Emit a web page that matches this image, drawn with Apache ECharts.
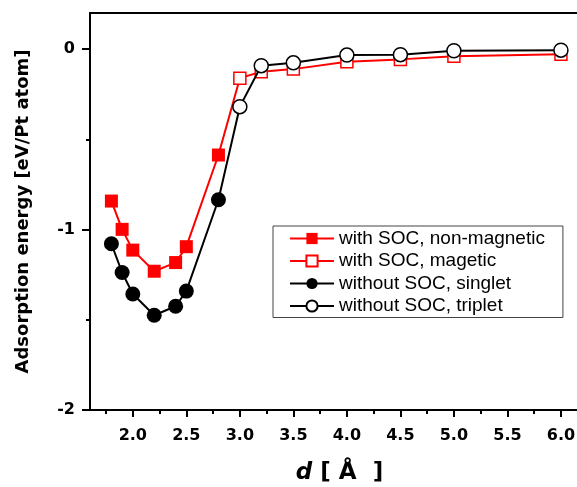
<!DOCTYPE html>
<html>
<head>
<meta charset="utf-8">
<script src="https://cdn.jsdelivr.net/npm/echarts@6/dist/echarts.min.js"></script>
<style>html,body{margin:0;padding:0;background:#fff;}#c{width:577px;height:487px;}</style>
</head>
<body>
<div id="c"></div>
<script>
// distances d [Å]
const dist = [1.8, 1.9, 2.0, 2.2, 2.4, 2.5, 2.8, 3.0, 3.2, 3.5, 4.0, 4.5, 5.0, 6.0];
// with SOC: first part non-magnetic (filled), rest magnetic (open)
const socEnergy = [-0.842, -0.999, -1.114, -1.231, -1.183, -1.095, -0.587, -0.161, -0.126, -0.111, -0.070, -0.057, -0.039, -0.028];
// without SOC: first part singlet (filled), rest triplet (open)
const noSocEnergy = [-1.079, -1.238, -1.357, -1.475, -1.425, -1.341, -0.835, -0.319, -0.092, -0.076, -0.033, -0.031, -0.009, -0.006];
const filledCount = 7;
const seriesNames = ['with SOC, non-magnetic', 'with SOC, magetic', 'without SOC, singlet', 'without SOC, triplet'];
const xLabelValues = [2.0, 2.5, 3.0, 3.5, 4.0, 4.5, 5.0, 5.5, 6.0];
const xMinorTickValues = [1.75, 2.25, 2.75, 3.25, 3.75, 4.25, 4.75, 5.25, 5.75];
const yLabelValues = [-2, -1, 0];
const yMinorTickValues = [-1.5, -0.5];

function filledPart(vals) {
  return dist.slice(0, filledCount).map((d, i) => [d, vals[i]]);
}
function openPart(vals) {
  const out = [];
  for (let i = filledCount - 1; i < dist.length; i++) {
    if (i === filledCount - 1) out.push({ value: [dist[i], vals[i]], symbol: 'none' });
    else out.push([dist[i], vals[i]]);
  }
  return out;
}

const axisFont = { fontFamily: 'DejaVu Sans', fontWeight: 'bold', fontSize: 16, color: '#000' };
const chart = echarts.init(document.getElementById('c'), null, { renderer: 'canvas' });
const xMin = 1.6, xMax = 6.15, yMin = -2, yMax = 0.2;

chart.setOption({
  animation: false,
  backgroundColor: '#fff',
  grid: { left: 90, right: 0, top: 13, bottom: 77, outerBoundsMode: 'none', containLabel: false },
  legend: {
    orient: 'vertical',
    left: 273, top: 226,
    itemWidth: 44, itemHeight: 14, itemGap: 3.5,
    padding: [3, 18, 2, 16],
    borderColor: '#444', borderWidth: 1,
    textStyle: { fontFamily: 'Liberation Sans', fontSize: 19, color: '#000' },
    data: seriesNames
  },
  xAxis: [
    {
      type: 'value', min: xMin, max: xMax, position: 'bottom',
      axisLine: { show: true, onZero: false, lineStyle: { color: '#000', width: 2 } },
      axisTick: { show: true, customValues: xLabelValues, length: 7, lineStyle: { color: '#000', width: 2 } },
      axisLabel: Object.assign({ customValues: xLabelValues, margin: 18, formatter: v => v.toFixed(1) }, axisFont),
      splitLine: { show: false },
      name: '{i|d}{n| [ Å  ]}', nameLocation: 'middle', nameGap: 52,
      nameTextStyle: {
        padding: [0, 0, 0, 12],
        rich: {
          i: { fontFamily: 'DejaVu Sans', fontWeight: 'bold', fontStyle: 'italic', fontSize: 23, color: '#000' },
          n: { fontFamily: 'DejaVu Sans', fontWeight: 'bold', fontSize: 23, color: '#000' }
        }
      }
    },
    {
      type: 'value', min: xMin, max: xMax, position: 'bottom',
      axisLine: { show: false, onZero: false },
      axisTick: { show: true, customValues: xMinorTickValues, length: 4, lineStyle: { color: '#000', width: 2 } },
      axisLabel: { show: false },
      splitLine: { show: false }
    },
    {
      type: 'value', min: xMin, max: xMax, position: 'top',
      axisLine: { show: true, onZero: false, lineStyle: { color: '#000', width: 2 } },
      axisTick: { show: false }, axisLabel: { show: false }, splitLine: { show: false }
    }
  ],
  yAxis: [
    {
      type: 'value', min: yMin, max: yMax, position: 'left',
      axisLine: { show: true, onZero: false, lineStyle: { color: '#000', width: 2 } },
      axisTick: { show: true, customValues: yLabelValues, length: 8, lineStyle: { color: '#000', width: 2 } },
      axisLabel: Object.assign({ customValues: yLabelValues, margin: 15, formatter: v => String(v) }, axisFont),
      splitLine: { show: false },
      name: 'Adsorption energy [eV/Pt atom]', nameLocation: 'middle', nameGap: 58,
      nameTextStyle: { fontFamily: 'DejaVu Sans', fontWeight: 'bold', fontSize: 18, color: '#000' }
    },
    {
      type: 'value', min: yMin, max: yMax, position: 'left',
      axisLine: { show: false, onZero: false },
      axisTick: { show: true, customValues: yMinorTickValues, length: 4, lineStyle: { color: '#000', width: 2 } },
      axisLabel: { show: false }, splitLine: { show: false }
    }
  ],
  series: [
    {
      name: seriesNames[0], type: 'line', z: 2,
      data: filledPart(socEnergy),
      symbol: 'rect', symbolSize: 13,
      lineStyle: { color: '#ff0000', width: 2 },
      itemStyle: { color: '#ff0000', borderWidth: 0 }
    },
    {
      name: seriesNames[1], type: 'line', z: 2,
      data: openPart(socEnergy),
      symbol: 'rect', symbolSize: 12,
      lineStyle: { color: '#ff0000', width: 2 },
      itemStyle: { color: '#ffffff', borderColor: '#ff0000', borderWidth: 1.5 }
    },
    {
      name: seriesNames[2], type: 'line', z: 3,
      data: filledPart(noSocEnergy),
      symbol: 'circle', symbolSize: 15,
      lineStyle: { color: '#000', width: 2 },
      itemStyle: { color: '#000', borderWidth: 0 }
    },
    {
      name: seriesNames[3], type: 'line', z: 3,
      data: openPart(noSocEnergy),
      symbol: 'circle', symbolSize: 14,
      lineStyle: { color: '#000', width: 2 },
      itemStyle: { color: '#ffffff', borderColor: '#000', borderWidth: 1.5 }
    }
  ]
});
</script>
</body>
</html>
